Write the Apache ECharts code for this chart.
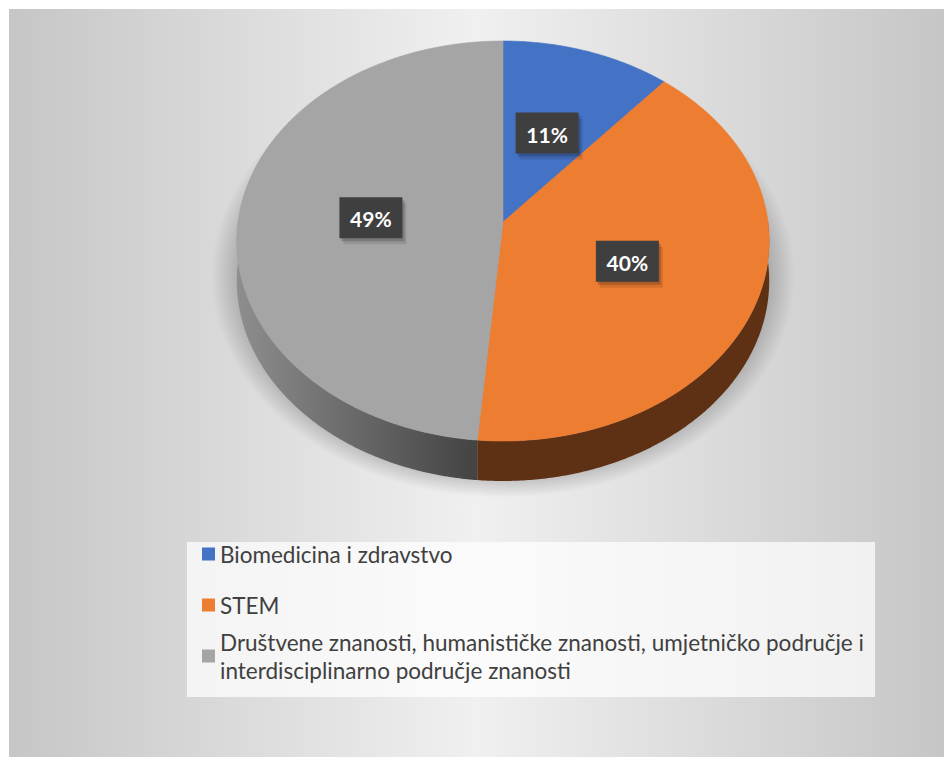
<!DOCTYPE html>
<html><head><meta charset="utf-8">
<script src="https://cdn.jsdelivr.net/npm/echarts@6/dist/echarts.min.js"></script>
<style>html,body{margin:0;padding:0;background:#fff}#c{width:944px;height:760px}</style>
</head><body><div id="c"></div>
<script>
// ---- data ----
const categories = [
  'Biomedicina i zdravstvo',
  'STEM',
  'Društvene znanosti, humanističke znanosti, umjetničko područje i interdisciplinarno područje znanosti'
];
const values = [11.3, 40.1, 48.6];
const colors = ['#4472C4', '#ED7D31', '#A5A5A5'];

// ---- layout (3D perspective pie) ----
const CX = 503, CY = 222, R = 265, A = 198.2, K = 0.095, DEPTH = 40;
const total = values.reduce((a, b) => a + b, 0);
function proj(theta, r) {
  const u = Math.sin(theta) * r, v = Math.cos(theta) * r;
  const d = 1 + K * v;
  return [CX + R * u / d, CY - A * v / d];
}
function startAngle(i) {
  let s = 0; for (let j = 0; j < i; j++) s += values[j];
  return s / total * 2 * Math.PI;
}
function arc(a0, a1, r, dy) {
  const pts = [];
  const n = Math.max(2, Math.ceil((a1 - a0) / (Math.PI / 360)));
  for (let k = 0; k <= n; k++) {
    const p = proj(a0 + (a1 - a0) * k / n, r);
    pts.push([p[0], p[1] + (dy || 0)]);
  }
  return pts;
}
const sideFills = [
  '#2c4a80',
  '#5e3115',
  new echarts.graphic.LinearGradient(0, 0, 1, 0, [
    { offset: 0, color: '#8e8e8e' }, { offset: 1, color: '#434343' }
  ])
];

// soft shadow under the pie (scaled circle with fading radial fill)
const SH_CX = 503, SH_CY = 276, SH_R = 292, SH_SY = 222 / 292;

const LBW = 63, LBH = 41;
function makeRender(i) {
  return function (params, api) {
    const v = api.value(0);
    const a0 = startAngle(i), a1 = a0 + v / total * 2 * Math.PI;
    const children = [];
    if (i === 0) {
      children.push({
        type: 'circle', shape: { cx: SH_CX, cy: SH_CY, r: SH_R }, z2: 0,
        originX: SH_CX, originY: SH_CY, scaleY: SH_SY,
        style: { fill: new echarts.graphic.RadialGradient(SH_CX, SH_CY, SH_R, [
          { offset: 0, color: 'rgba(0,0,0,0.26)' },
          { offset: 0.88, color: 'rgba(0,0,0,0.26)' },
          { offset: 0.94, color: 'rgba(0,0,0,0.13)' },
          { offset: 1, color: 'rgba(0,0,0,0)' }], true) }
      });
    }
    const s0 = Math.max(a0, Math.PI / 2), s1 = Math.min(a1, 1.5 * Math.PI);
    if (s1 > s0) {
      const t = arc(s0, s1, 1, 0);
      const b = arc(s0, s1, 1, DEPTH).reverse();
      children.push({ type: 'polygon', shape: { points: t.concat(b) }, z2: 1,
        style: { fill: sideFills[i], stroke: null } });
    }
    const pts = [proj(0, 0)].concat(arc(a0, a1, 1, 0));
    children.push({ type: 'polygon', shape: { points: pts }, z2: 2,
      style: { fill: colors[i], stroke: colors[i], lineWidth: 0.6 } });
    const lp = proj((a0 + a1) / 2, 0.5);
    const bx = lp[0] - LBW / 2, by = lp[1] - LBH / 2;
    children.push({ type: 'rect', z2: 8, shape: { x: bx + 4, y: by + 6, width: LBW, height: LBH },
      style: { fill: 'rgba(0,0,0,0.10)' } });
    children.push({ type: 'rect', z2: 8, shape: { x: bx + 2, y: by + 3, width: LBW, height: LBH },
      style: { fill: 'rgba(0,0,0,0.18)' } });
    children.push({ type: 'rect', z2: 9, shape: { x: bx, y: by, width: LBW, height: LBH },
      style: { fill: '#3f3f3f' } });
    children.push({
      type: 'text', x: lp[0], y: lp[1] + 1, z2: 10,
      style: {
        text: Math.round(v / total * 100) + '%',
        fill: '#ffffff', font: 'bold 21px Lato', align: 'center', verticalAlign: 'middle'
      }
    });
    return { type: 'group', children: children };
  };
}

const legendTops = [540, 591, 614];
const chart = echarts.init(document.getElementById('c'), null, { renderer: 'svg' });
chart.setOption({
  animation: false,
  graphic: [
    { type: 'rect', z: -10, shape: { x: 9, y: 9, width: 935, height: 748 },
      style: { fill: new echarts.graphic.LinearGradient(0, 0, 1, 0, [
        { offset: 0, color: '#c6c6c6' }, { offset: 0.5, color: '#f0f0f0' }, { offset: 1, color: '#c6c6c6' }]) } },
    { type: 'rect', z: -9, shape: { x: 187, y: 542, width: 688, height: 155 },
      style: { fill: 'rgba(255,255,255,0.72)' } }
  ],
  legend: categories.map((name, i) => ({
    data: [name], left: 202, top: legendTops[i], orient: 'vertical', padding: 0,
    itemWidth: 13, itemHeight: 13, itemGap: 0, selectedMode: false, icon: 'rect',
    formatter: function (n) {
      return n.replace(' područje i interdisciplinarno', ' područje i\ninterdisciplinarno');
    },
    textStyle: {
      color: '#404040', fontFamily: 'Lato', fontSize: 22.5, lineHeight: 28,
      padding: i === 2 ? [28, 0, 0, 0] : 0
    }
  })),
  series: categories.map((name, i) => ({
    type: 'custom', name: name, coordinateSystem: 'none',
    itemStyle: { color: colors[i] },
    data: [values[i]],
    renderItem: makeRender(i)
  }))
});
</script></body></html>
